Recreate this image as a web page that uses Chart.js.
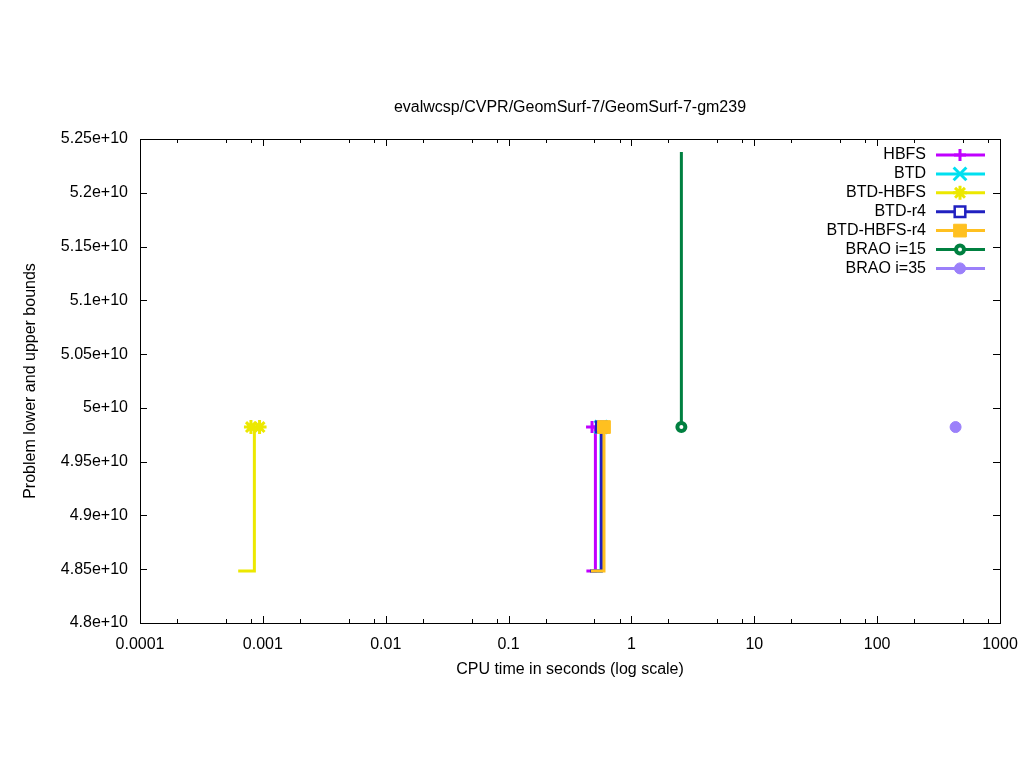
<!DOCTYPE html>
<html>
<head>
<meta charset="utf-8">
<script src="https://cdn.jsdelivr.net/npm/chart.js@4/dist/chart.umd.min.js"></script>
<style>
  html,body{margin:0;padding:0;background:#fff;}
  #wrap{width:1024px;height:768px;}
</style>
</head>
<body>
<div id="wrap"><canvas id="c" width="1024" height="768"></canvas></div>
<script>
const TITLE = 'evalwcsp/CVPR/GeomSurf-7/GeomSurf-7-gm239';
const X_TITLE = 'CPU time in seconds (log scale)';
const Y_TITLE = 'Problem lower and upper bounds';

const xTickVals = [1e-4, 1e-3, 1e-2, 1e-1, 1, 10, 100, 1000];
const xTickLabels = ['0.0001','0.001','0.01','0.1','1','10','100','1000'];
const xMinorFactors = [2, 5, 8];
const yTickVals = [4.8e10, 4.85e10, 4.9e10, 4.95e10, 5e10, 5.05e10, 5.1e10, 5.15e10, 5.2e10, 5.25e10];
const yTickLabels = ['4.8e+10','4.85e+10','4.9e+10','4.95e+10','5e+10','5.05e+10','5.1e+10','5.15e+10','5.2e+10','5.25e+10'];

// step series (time, bound)
const names = ['HBFS','BTD','BTD-HBFS','BTD-r4','BTD-HBFS-r4','BRAO i=15','BRAO i=35'];
const hbfsX = [0.43, 0.509, 0.509, 0.478];
const hbfsY = [4.8483e10, 4.8483e10, 4.9822e10, 4.9822e10];
const btdX = [0.47, 0.565, 0.565];
const btdY = [4.8483e10, 4.8483e10, 4.9822e10];
const btdHbfsX = [0.00063, 0.000853, 0.000853, 0.0008, 0.00094];
const btdHbfsY = [4.8483e10, 4.8483e10, 4.9822e10, 4.9822e10, 4.9822e10];
const btdR4X = [0.46, 0.57, 0.57];
const btdR4Y = [4.8483e10, 4.8483e10, 4.9822e10];
const btdHbfsR4X = [0.468, 0.598, 0.598];
const btdHbfsR4Y = [4.8483e10, 4.8483e10, 4.9822e10];
const brao15X = [2.55, 2.55];
const brao15Y = [5.238e10, 4.9822e10];
const brao35X = [435];
const brao35Y = [4.9822e10];

// which points carry a marker
const hbfsMk = [0,0,0,1];
const btdMk = [0,0,1];
const btdHbfsMk = [0,0,0,1,1];
const btdR4Mk = [0,0,1];
const btdHbfsR4Mk = [0,0,1];
const brao15Mk = [0,1];
const brao35Mk = [1];

const colors = ['#c000ff','#00e0f0','#ece800','#2020c0','#ffc020','#008040','#9b80fa'];
const styles = [
  {ps:'cross', r:6, bw:3, fill:false},
  {ps:'crossRot', r:9, bw:3, fill:false},
  {ps:'star', r:7, bw:3, fill:false},
  {ps:'rect', r:7.5, bw:2.5, fill:false},
  {ps:'rect', r:9, bw:1, fill:true},
  {ps:'circle', r:4, bw:4, fill:false},
  {ps:'circle', r:5.5, bw:1, fill:true}
];

const seriesX = [hbfsX, btdX, btdHbfsX, btdR4X, btdHbfsR4X, brao15X, brao35X];
const seriesY = [hbfsY, btdY, btdHbfsY, btdR4Y, btdHbfsR4Y, brao15Y, brao35Y];
const seriesMk = [hbfsMk, btdMk, btdHbfsMk, btdR4Mk, btdHbfsR4Mk, brao15Mk, brao35Mk];

const FONT = '"Liberation Sans", Arial, sans-serif';
const N = names.length;

const datasets = names.map((n,i)=>{
  const st = styles[i];
  return {
    label:n,
    data:seriesX[i].map((x,j)=>({x:x,y:seriesY[i][j]})),
    showLine:true,
    borderColor:colors[i],
    borderWidth:3,
    pointStyle:st.ps,
    pointRadius:seriesMk[i].map(m=>m?st.r:0),
    pointBorderWidth:st.bw,
    pointBorderColor:colors[i],
    pointBackgroundColor:st.fill?colors[i]:(st.ps==='rect'||st.ps==='circle'?'#ffffff':colors[i]),
    pointHoverRadius:0,
    order:N-1-i,
    fill:false
  };
});

const frame = {
  id:'frame',
  afterDraw(chart){
    const ctx = chart.ctx, a = chart.chartArea;
    const xs = chart.scales.x, ys = chart.scales.y;
    ctx.save();
    ctx.strokeStyle = '#000';
    ctx.lineWidth = 1;
    ctx.beginPath();
    // major and minor x ticks, bottom and top
    xTickVals.forEach(v=>{
      const px = Math.round(xs.getPixelForValue(v))+0.5;
      ctx.moveTo(px,a.bottom); ctx.lineTo(px,a.bottom-7);
      ctx.moveTo(px,a.top); ctx.lineTo(px,a.top+7);
      xMinorFactors.forEach(f=>{
        const mv = v*f;
        if(mv>=1000) return;
        const mx = Math.round(xs.getPixelForValue(mv))+0.5;
        ctx.moveTo(mx,a.bottom); ctx.lineTo(mx,a.bottom-4);
        ctx.moveTo(mx,a.top); ctx.lineTo(mx,a.top+4);
      });
    });
    yTickVals.forEach(v=>{
      const py = Math.round(ys.getPixelForValue(v))+0.5;
      ctx.moveTo(a.left,py); ctx.lineTo(a.left+7,py);
      ctx.moveTo(a.right,py); ctx.lineTo(a.right-7,py);
    });
    ctx.stroke();
    ctx.strokeRect(Math.round(a.left)+0.5, Math.round(a.top)+0.5, Math.round(a.right-a.left), Math.round(a.bottom-a.top));

    // titles
    ctx.fillStyle = '#000';
    ctx.font = '16px ' + FONT;
    ctx.textAlign = 'center';
    ctx.textBaseline = 'middle';
    ctx.fillText(TITLE, (a.left+a.right)/2, 108);
    ctx.fillText(X_TITLE, (a.left+a.right)/2, 670);
    ctx.save();
    ctx.translate(31, (a.top+a.bottom)/2);
    ctx.rotate(-Math.PI/2);
    ctx.fillText(Y_TITLE, 0, 0);
    ctx.restore();

    // legend
    names.forEach((n,i)=>{
      const y = 155 + i*18.9;
      ctx.textAlign = 'right';
      ctx.fillStyle = '#000';
      ctx.fillText(n, 926, y);
      ctx.strokeStyle = colors[i];
      ctx.lineWidth = 3;
      ctx.beginPath();
      ctx.moveTo(936,y); ctx.lineTo(985,y);
      ctx.stroke();
      const st = styles[i];
      ctx.fillStyle = st.fill?colors[i]:'#ffffff';
      ctx.strokeStyle = colors[i];
      ctx.lineWidth = st.bw;
      Chart.helpers.drawPoint(ctx,{pointStyle:st.ps,radius:st.r,borderWidth:st.bw,rotation:0},960,y);
    });
    ctx.restore();
  }
};

new Chart(document.getElementById('c'),{
  type:'scatter',
  data:{datasets:datasets},
  options:{
    responsive:false,
    animation:false,
    devicePixelRatio:1,
    layout:{padding:{top:139,right:24,left:0,bottom:0}},
    plugins:{legend:{display:false},tooltip:{enabled:false},title:{display:false}},
    elements:{line:{tension:0}},
    scales:{
      x:{
        type:'logarithmic',min:1e-4,max:1e3,
        grid:{display:false,drawTicks:false},
        border:{display:false},
        afterBuildTicks:s=>{s.ticks = xTickVals.map(v=>({value:v,major:true}));},
        afterFit:s=>{s.height = 145; s.paddingLeft = 0; s.paddingRight = 0;},
        ticks:{autoSkip:false,maxRotation:0,color:'#000',padding:12,font:{family:FONT,size:16},
          callback:(v,i)=>xTickLabels[i]}
      },
      y:{
        type:'linear',min:4.8e10,max:5.25e10,
        grid:{display:false,drawTicks:false},
        border:{display:false},
        afterBuildTicks:s=>{s.ticks = yTickVals.map(v=>({value:v}));},
        afterFit:s=>{s.width = 140; s.paddingTop = 0; s.paddingBottom = 0;},
        ticks:{autoSkip:false,color:'#000',padding:12,font:{family:FONT,size:16},
          callback:(v,i)=>yTickLabels[i]}
      }
    }
  },
  plugins:[frame]
});
</script>
</body>
</html>
